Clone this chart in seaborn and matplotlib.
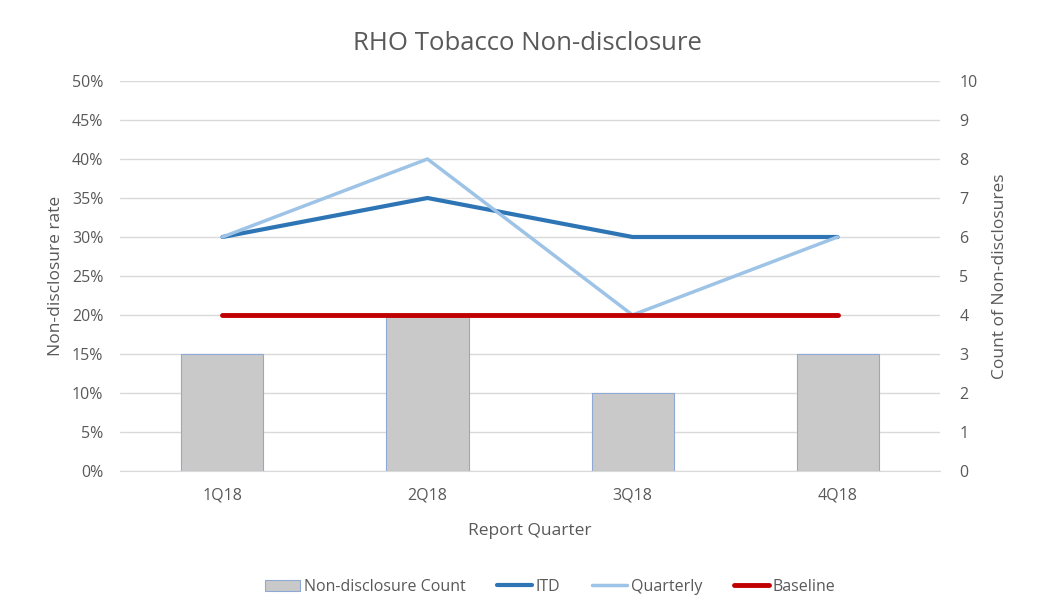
import pandas as pd
import numpy as np
import seaborn as sns
import matplotlib.pyplot as plt
from matplotlib.patches import Patch
from matplotlib.lines import Line2D

quarters = ["1Q18", "2Q18", "3Q18", "4Q18"]
counts = [3, 4, 2, 3]
itd = [0.30, 0.35, 0.30, 0.30]
quarterly = [0.30, 0.40, 0.20, 0.30]
baseline = [0.20, 0.20, 0.20, 0.20]

df = pd.DataFrame({"Quarter": quarters, "Count": counts, "ITD": itd,
                   "Quarterly": quarterly, "Baseline": baseline})

sns.set_style("white")
plt.rcParams["font.family"] = ["Open Sans", "DejaVu Sans"]
txt = "#595959"

fig = plt.figure(figsize=(10.38, 6.16), dpi=100)
ax = fig.add_axes([0.1156, 0.2354, 0.79, 0.6331])
ax2 = ax.twinx()

# bars on secondary axis, drawn underneath
sns.barplot(data=df, x="Quarter", y="Count", ax=ax2, color="#c9c9c9",
            width=0.4, edgecolor="#8fa9d6", linewidth=0.8, saturation=1)
ax2.set_ylim(0, 10)
ax2.set_yticks(range(0, 11))
ax2.yaxis.grid(True, color="#d9d9d9", linewidth=1)
ax2.set_axisbelow(True)
ax2.set_ylabel("Count of Non-disclosures", color=txt, fontsize=12.5, labelpad=10)

sns.lineplot(data=df, x="Quarter", y="ITD", ax=ax, color="#2e75b6", linewidth=3)
sns.lineplot(data=df, x="Quarter", y="Quarterly", ax=ax, color="#9dc3e6", linewidth=2.5)
sns.lineplot(data=df, x="Quarter", y="Baseline", ax=ax, color="#c00000", linewidth=3.5)
ax.set_zorder(ax2.get_zorder() + 1)
ax.patch.set_visible(False)
ax.set_ylim(0, 0.5)
ax.set_yticks(np.arange(0, 0.51, 0.05))
ax.set_yticklabels([f"{int(round(v * 100))}%" for v in np.arange(0, 0.51, 0.05)])
ax.set_xlim(-0.5, 3.5)
ax.set_ylabel("Non-disclosure rate", color=txt, fontsize=12.5, labelpad=6)
ax.set_xlabel("Report Quarter", color=txt, fontsize=12.5, labelpad=14)

for a in (ax, ax2):
    a.tick_params(length=0, colors=txt, labelsize=11.5)
    for s in a.spines.values():
        s.set_visible(False)
ax2.spines["bottom"].set_visible(True)
ax2.spines["bottom"].set_color("#d9d9d9")
ax.tick_params(axis="x", pad=12)
ax.tick_params(axis="y", pad=12)
ax2.tick_params(axis="y", pad=14)

fig.suptitle("RHO Tobacco Non-disclosure", x=0.508, y=0.95, fontsize=18.5, color=txt)

handles = [Patch(facecolor="#c9c9c9", edgecolor="#8fa9d6", linewidth=0.8),
           Line2D([], [], color="#2e75b6", linewidth=3),
           Line2D([], [], color="#9dc3e6", linewidth=2.5),
           Line2D([], [], color="#c00000", linewidth=3.5)]
fig.legend(handles, ["Non-disclosure Count", "ITD", "Quarterly", "Baseline"],
           loc="center", bbox_to_anchor=(0.53, 0.047), ncol=4, frameon=False,
           fontsize=11.5, labelcolor=txt, handlelength=2.2, handletextpad=0.2,
           columnspacing=2.0)

fig.savefig("out.png", dpi=100)
